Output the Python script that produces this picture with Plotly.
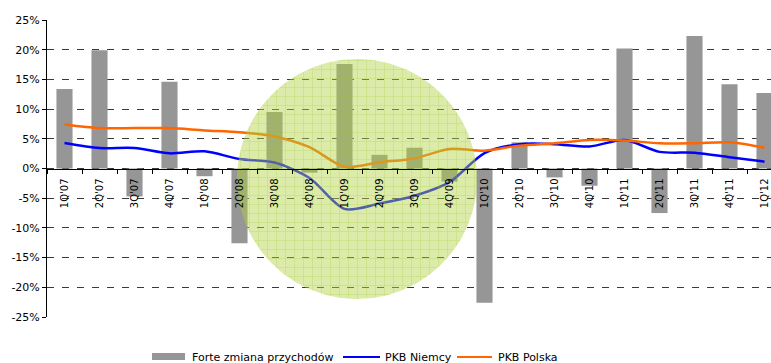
import numpy as np
import plotly.graph_objects as go

# Quarters and series (percent)
quarters = ["1Q'07", "2Q'07", "3Q'07", "4Q'07", "1Q'08", "2Q'08", "3Q'08", "4Q'08",
            "1Q'09", "2Q'09", "3Q'09", "4Q'09", "1Q'10", "2Q'10", "3Q'10", "4Q'10",
            "1Q'11", "2Q'11", "3Q'11", "4Q'11", "1Q'12"]
forte_revenue_change = [13.4, 19.9, -4.7, 14.6, -1.3, -12.6, 9.5, -0.7,
                        17.6, 2.3, 3.5, -2.2, -22.6, 4.4, -1.5, -2.9,
                        20.2, -7.5, 22.3, 14.2, 12.7]
gdp_germany = [4.3, 3.45, 3.45, 2.55, 2.9, 1.6, 1.0, -1.6,
               -6.8, -5.9, -4.6, -2.3, 2.6, 4.1, 4.1, 3.7,
               4.8, 2.8, 2.65, 1.9, 1.15]
gdp_poland = [7.4, 6.8, 6.8, 6.8, 6.4, 6.1, 5.4, 3.6,
              0.3, 1.05, 1.7, 3.3, 3.0, 3.85, 4.25, 4.8,
              4.7, 4.25, 4.25, 4.4, 3.5]
y_ticks = [25, 20, 15, 10, 5, 0, -5, -10, -15, -20, -25]
y_tick_text = [f"{v}%" for v in y_ticks]

legend_names = ["Forte zmiana przychodów", "PKB Niemcy", "PKB Polska"]

W, H = 771, 363
L, R, T, B = 47, 0, 20, 46
PW, PH = W - L - R, H - T - B

FONT = "DejaVu Sans"
BAR_COLOR = "#969696"
BLUE = "#0000FF"
ORANGE = "#FF6600"


def px_x(x):
    return (x - L) / PW


def px_y(y):
    return (H - B - y) / PH


fig = go.Figure()

fig.add_trace(go.Bar(x=quarters, y=forte_revenue_change, name=legend_names[0],
                     marker=dict(color=BAR_COLOR, line=dict(width=0)),
                     width=0.46, showlegend=False))
fig.add_trace(go.Scatter(x=quarters, y=gdp_germany, name=legend_names[1], mode="lines",
                         line=dict(color=BLUE, width=2.5, shape="spline", smoothing=0.8),
                         showlegend=False))
fig.add_trace(go.Scatter(x=quarters, y=gdp_poland, name=legend_names[2], mode="lines",
                         line=dict(color=ORANGE, width=2.5, shape="spline", smoothing=0.8),
                         showlegend=False))

# Highlight disc over the 2008-2009 slowdown, drawn on a pixel-scaled overlay axis
cx, cy, r = 310, 138, 120
t = np.linspace(0, 2 * np.pi, 241)
fig.add_trace(go.Scatter(
    x=cx + r * np.cos(t), y=cy + r * np.sin(t), xaxis="x2", yaxis="y2",
    mode="lines", line=dict(width=0), fill="toself",
    fillcolor="rgba(175,210,60,0.45)",
    fillpattern=dict(shape="+", size=9, solidity=0.12,
                     bgcolor="rgba(178,212,66,0.45)", fgcolor="rgba(150,195,20,0.7)"),
    showlegend=False, hoverinfo="skip"))

axis_font = dict(family=FONT, size=11, color="#000000")

fig.update_layout(
    width=W, height=H,
    margin=dict(l=L, r=R, t=T, b=B, pad=0),
    paper_bgcolor="white", plot_bgcolor="white",
    font=dict(family=FONT, size=11, color="#000000"),
    bargap=0.54, hovermode=False, showlegend=False,
    xaxis=dict(
        type="category", range=[-0.5, -0.5 + PW / 35.0],
        anchor="free", position=0.5,
        showline=True, linecolor="#000000", linewidth=1,
        ticks="outside", tickson="boundaries", ticklen=4, tickcolor="#000000",
        tickangle=-90, ticklabelstandoff=5,
        tickfont=dict(family=FONT, size=10, color="#000000"),
        showgrid=False, zeroline=False, fixedrange=True,
    ),
    yaxis=dict(
        range=[-25, 25], tickvals=y_ticks, ticktext=y_tick_text,
        showline=True, linecolor="#000000", linewidth=1,
        ticks="outside", ticklen=4, tickcolor="#000000",
        tickfont=axis_font,
        showgrid=True, gridcolor="#3a3a3a", gridwidth=1, griddash="7px,8px",
        zeroline=False, fixedrange=True,
    ),
    xaxis2=dict(overlaying="x", range=[0, PW], visible=False, fixedrange=True),
    yaxis2=dict(overlaying="y", range=[0, PH], visible=False, fixedrange=True),
)

# Legend row below the chart
leg_y = 357
fig.add_shape(type="rect", xref="paper", yref="paper",
              x0=px_x(152), x1=px_x(185), y0=px_y(360), y1=px_y(353),
              fillcolor=BAR_COLOR, line=dict(width=0))
fig.add_shape(type="line", xref="paper", yref="paper",
              x0=px_x(343), x1=px_x(380), y0=px_y(leg_y), y1=px_y(leg_y),
              line=dict(color=BLUE, width=2))
fig.add_shape(type="line", xref="paper", yref="paper",
              x0=px_x(457), x1=px_x(492), y0=px_y(leg_y), y1=px_y(leg_y),
              line=dict(color=ORANGE, width=2))
for name, xpos in zip(legend_names, [190, 383, 496]):
    fig.add_annotation(text=name, xref="paper", yref="paper",
                       x=px_x(xpos), y=px_y(leg_y), xanchor="left", yanchor="middle",
                       showarrow=False, font=dict(family=FONT, size=11, color="#000000"))

fig.write_html("out.html")
